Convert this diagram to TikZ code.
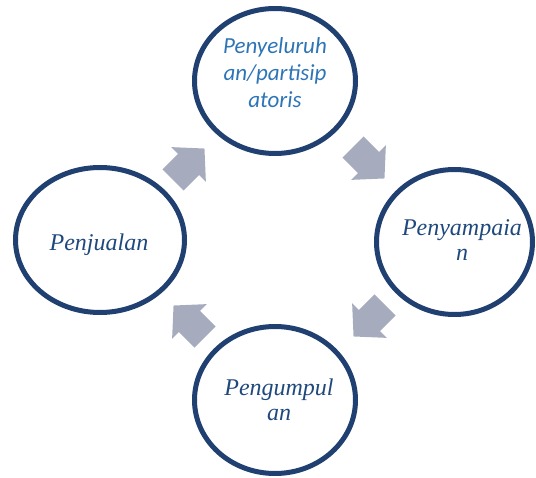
\documentclass[tikz,border=0pt]{standalone}
\usepackage{fontspec}
\newfontfamily\calibfont{Carlito}
\newfontfamily\timesfont{Liberation Serif}
\usetikzlibrary{shapes.geometric}
\definecolor{ringcol}{RGB}{31,64,112}
\definecolor{arrowfill}{RGB}{166,172,190}
\definecolor{bluetext}{RGB}{46,117,182}
\definecolor{navytext}{RGB}{31,73,125}
\tikzset{
  ring/.style={ellipse, draw=ringcol, line width=5pt, inner sep=0pt},
  sanslbl/.style={align=center, inner sep=0pt, text=bluetext,
    font=\calibfont\itshape\fontsize{23}{27}\selectfont},
  seriflbl/.style={align=center, inner sep=0pt, text=navytext,
    font=\timesfont\itshape\fontsize{24}{24.5}\selectfont},
  blockarrow/.pic={
    \fill[arrowfill] (0,-15) -- (22,-15) -- (22,-24.5) -- (44.5,0)
      -- (22,24.5) -- (22,15) -- (0,15) -- cycle;
  }
}
\begin{document}
\begin{tikzpicture}[x=1pt,y=-1pt]
\useasboundingbox (0,0) rectangle (536,478);
% circles
\node[ring, minimum width=161pt, minimum height=145pt] (top) at (275,81) {};
\node[ring, minimum width=156pt, minimum height=145pt] (right) at (454.5,242) {};
\node[ring, minimum width=169pt, minimum height=145pt] (left) at (100,240) {};
\node[ring, minimum width=161pt, minimum height=147pt] (bottom) at (275,400) {};
% labels
\node[sanslbl] (ttop) at (275,73) {Penyeluruh\\an/partisip\\atoris};
\node[seriflbl] (tright) at (462,240) {Penyampaia\\n};
\node[seriflbl] (tleft) at (99,244.5) {Penjualan};
\node[seriflbl] (tbottom) at (279,400) {Pengumpul\\an};
% block arrows
\pic[rotate=45] (a1) at (173,180) {blockarrow};
\pic[rotate=-45] (a2) at (353,147) {blockarrow};
\pic[rotate=-135] (a3) at (385,305) {blockarrow};
\pic[rotate=135] (a4) at (205,337) {blockarrow};
\end{tikzpicture}
\end{document}
